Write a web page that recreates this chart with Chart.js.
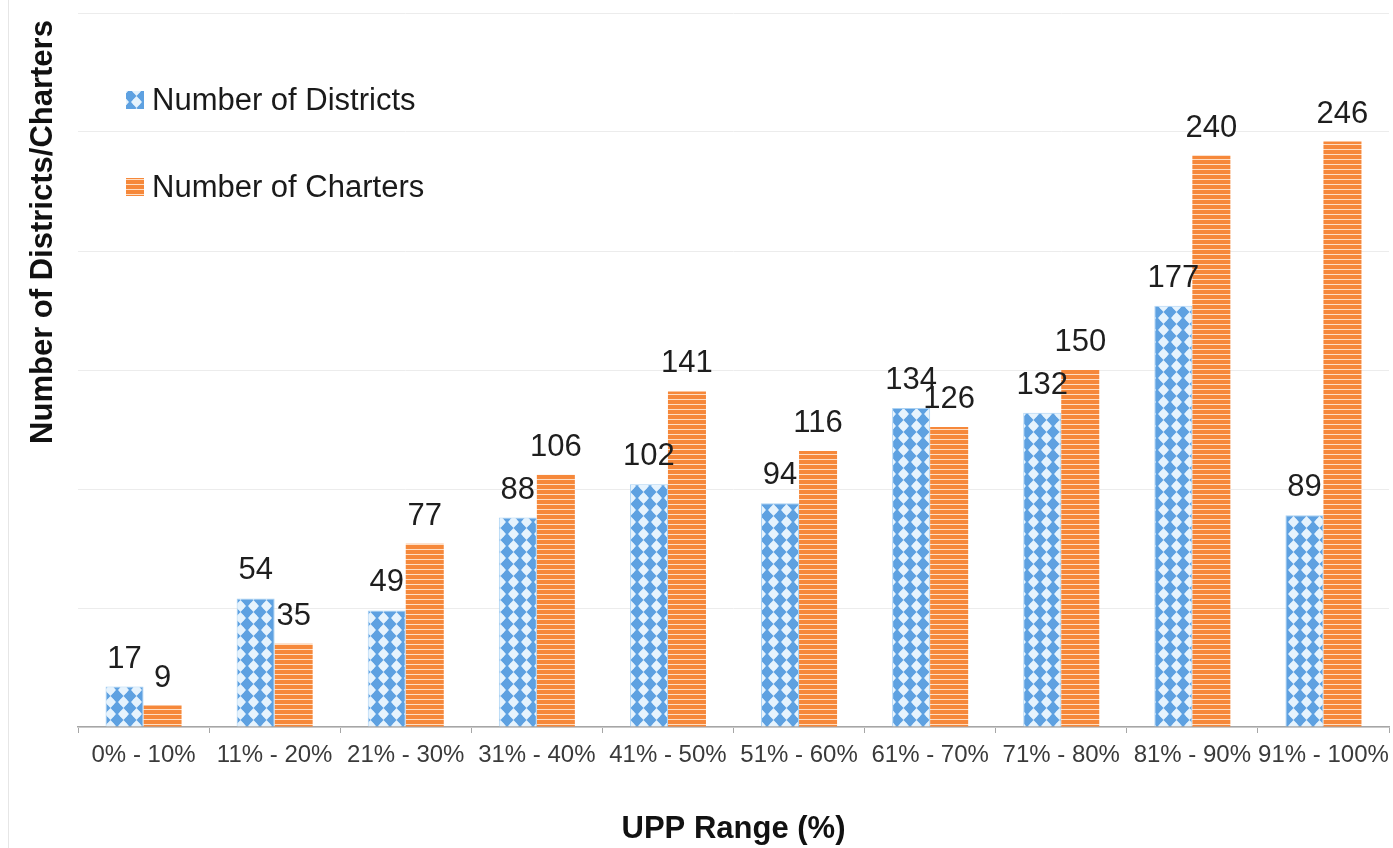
<!DOCTYPE html>
<html lang="en">
<head>
  <meta charset="UTF-8">
  <title>UPP Range</title>
  <script src="https://cdn.jsdelivr.net/npm/chart.js"></script>
  <style>
    html, body {
      margin: 0;
      padding: 0;
      background: #fff;
    }
    canvas {
      display: block;
    }
  </style>
</head>
<body>
  <canvas id="myChart" width="1393" height="848"></canvas>

  <script>
    // Data
    const ranges = ['0% - 10%', '11% - 20%', '21% - 30%', '31% - 40%', '41% - 50%',
                    '51% - 60%', '61% - 70%', '71% - 80%', '81% - 90%', '91% - 100%'];
    const districts = [17, 54, 49, 88, 102, 94, 134, 132, 177, 89];
    const charters = [9, 35, 77, 106, 141, 116, 126, 150, 240, 246];
    const seriesNames = ['Number of Districts', 'Number of Charters'];
    const yTitle = 'Number of Districts/Charters';
    const xTitle = 'UPP Range (%)';
    const yMax = 300;
    const yStep = 50;

    const FONT = '"Liberation Sans", Arial, sans-serif';
    const ctx = document.getElementById('myChart').getContext('2d');

    // blue with white diamonds
    function diamondPattern() {
      const c = document.createElement('canvas');
      c.width = 13; c.height = 12;
      const g = c.getContext('2d');
      g.fillStyle = '#5ea1e1';
      g.fillRect(0, 0, 13, 12);
      g.fillStyle = '#e6f3fd';
      g.beginPath();
      g.moveTo(6.5, 0);
      g.lineTo(12, 6);
      g.lineTo(6.5, 12);
      g.lineTo(1, 6);
      g.closePath();
      g.fill();
      g.beginPath();
      g.arc(6.5, 6, 3.8, 0, Math.PI * 2);
      g.fill();
      return ctx.createPattern(c, 'repeat');
    }

    // orange with thin light lines
    function stripePattern() {
      const c = document.createElement('canvas');
      c.width = 6; c.height = 5;
      const g = c.getContext('2d');
      g.fillStyle = '#f6883a';
      g.fillRect(0, 0, 6, 5);
      g.fillStyle = 'rgba(255, 232, 212, 0.9)';
      g.fillRect(0, 4, 6, 1);
      return ctx.createPattern(c, 'repeat');
    }

    const bluePat = diamondPattern();
    const orangePat = stripePattern();

    // value labels above each bar
    const barLabels = {
      id: 'barLabels',
      afterDatasetsDraw(chart) {
        const c = chart.ctx;
        c.save();
        c.font = '31px ' + FONT;
        c.fillStyle = '#1e1e1e';
        c.textAlign = 'center';
        c.textBaseline = 'alphabetic';
        chart.data.datasets.forEach((ds, i) => {
          chart.getDatasetMeta(i).data.forEach((bar, j) => {
            c.fillText(ds.data[j], bar.x, bar.y - 19);
          });
        });
        c.restore();
      }
    };

    // legend, y title and the thin frame line on the left
    const extras = {
      id: 'extras',
      beforeDraw(chart) {
        const c = chart.ctx;
        c.save();
        c.fillStyle = '#e6e6e6';
        c.fillRect(8, 0, 1, chart.height);
        c.restore();
      },
      afterDraw(chart) {
        const c = chart.ctx;
        c.save();
        // y axis title
        c.translate(43, 232);
        c.rotate(-Math.PI / 2);
        c.font = 'bold 31px ' + FONT;
        c.fillStyle = '#111';
        c.textAlign = 'center';
        c.textBaseline = 'middle';
        c.fillText(yTitle, 0, 0);
        c.restore();

        // legend
        const items = [
          { text: seriesNames[0], fill: bluePat, y: 100 },
          { text: seriesNames[1], fill: orangePat, y: 187 }
        ];
        c.save();
        c.font = '31px ' + FONT;
        c.textBaseline = 'middle';
        items.forEach(it => {
          c.fillStyle = it.fill;
          c.fillRect(126, it.y - 9, 18, 18);
          c.fillStyle = '#1a1a1a';
          c.fillText(it.text, 152, it.y + 1);
        });
        c.restore();
      }
    };

    const myChart = new Chart(ctx, {
      type: 'bar',
      data: {
        labels: ranges,
        datasets: [{
          label: seriesNames[0],
          data: districts,
          backgroundColor: bluePat,
          borderColor: '#a9d1f3',
          borderWidth: 1
        }, {
          label: seriesNames[1],
          data: charters,
          backgroundColor: orangePat,
          borderColor: '#f6883a',
          borderWidth: 0
        }]
      },
      plugins: [barLabels, extras],
      options: {
        responsive: false,
        animation: false,
        categoryPercentage: 0.58,
        barPercentage: 1.0,
        layout: {
          padding: { left: 78, right: 4, top: 13, bottom: 0 }
        },
        plugins: {
          legend: { display: false },
          tooltip: { enabled: false }
        },
        scales: {
          x: {
            afterFit(scale) {
              // last label nearly fills its slot, don't let it shrink the plot
              scale.paddingLeft = 0;
              scale.paddingRight = 0;
            },
            grid: {
              display: true,
              drawOnChartArea: false,
              drawTicks: true,
              tickLength: 6,
              color: '#a6a6a6'
            },
            border: { display: true, color: '#a6a6a6', width: 1.5 },
            ticks: {
              color: '#3a3a3a',
              font: { family: FONT, size: 24 },
              padding: 8,
              maxRotation: 0,
              autoSkip: false
            },
            title: {
              display: true,
              text: xTitle,
              color: '#111',
              font: { family: FONT, size: 31, weight: 'bold' },
              padding: { top: 33, bottom: 0 }
            }
          },
          y: {
            min: 0,
            max: yMax,
            ticks: { display: false, stepSize: yStep },
            grid: { color: '#ececec', drawTicks: false },
            border: { display: false }
          }
        }
      }
    });
  </script>
</body>
</html>
